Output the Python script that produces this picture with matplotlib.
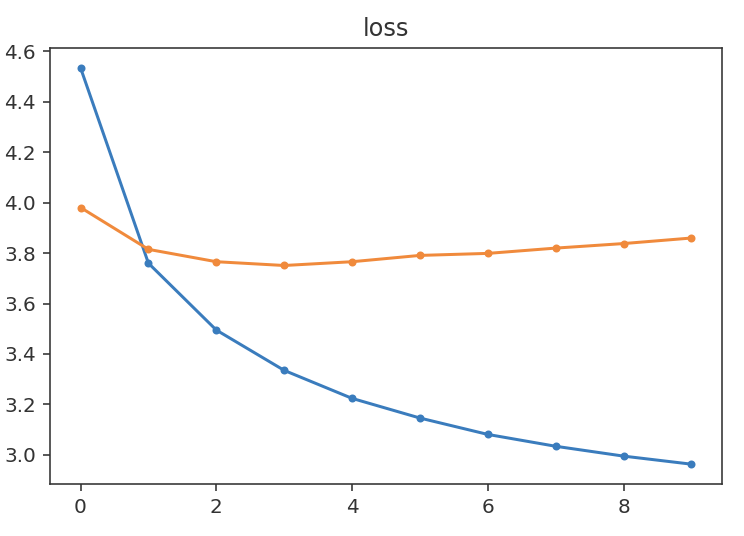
import matplotlib
matplotlib.use("Agg")
import matplotlib.pyplot as plt

epochs = list(range(10))
train_loss = [4.535, 3.760, 3.495, 3.335, 3.224, 3.146, 3.081, 3.034, 2.995, 2.963]
val_loss = [3.981, 3.815, 3.766, 3.751, 3.766, 3.791, 3.799, 3.820, 3.838, 3.860]
title = "loss"

text_color = '#333333'
plt.rcParams['text.color'] = text_color
plt.rcParams['xtick.color'] = text_color
plt.rcParams['ytick.color'] = text_color
plt.rcParams['axes.edgecolor'] = '#333333'

fig = plt.figure(figsize=(744/144, 536/144), dpi=144)
ax = fig.add_axes([50/744, 1-484/536, (722-50)/744, (484-48)/536])
ax.plot(epochs, train_loss, marker='.', color='#3a7cbd')
ax.plot(epochs, val_loss, marker='.', color='#f08a3c')
ax.set_title(title)
fig.savefig("out.png", dpi=144)
